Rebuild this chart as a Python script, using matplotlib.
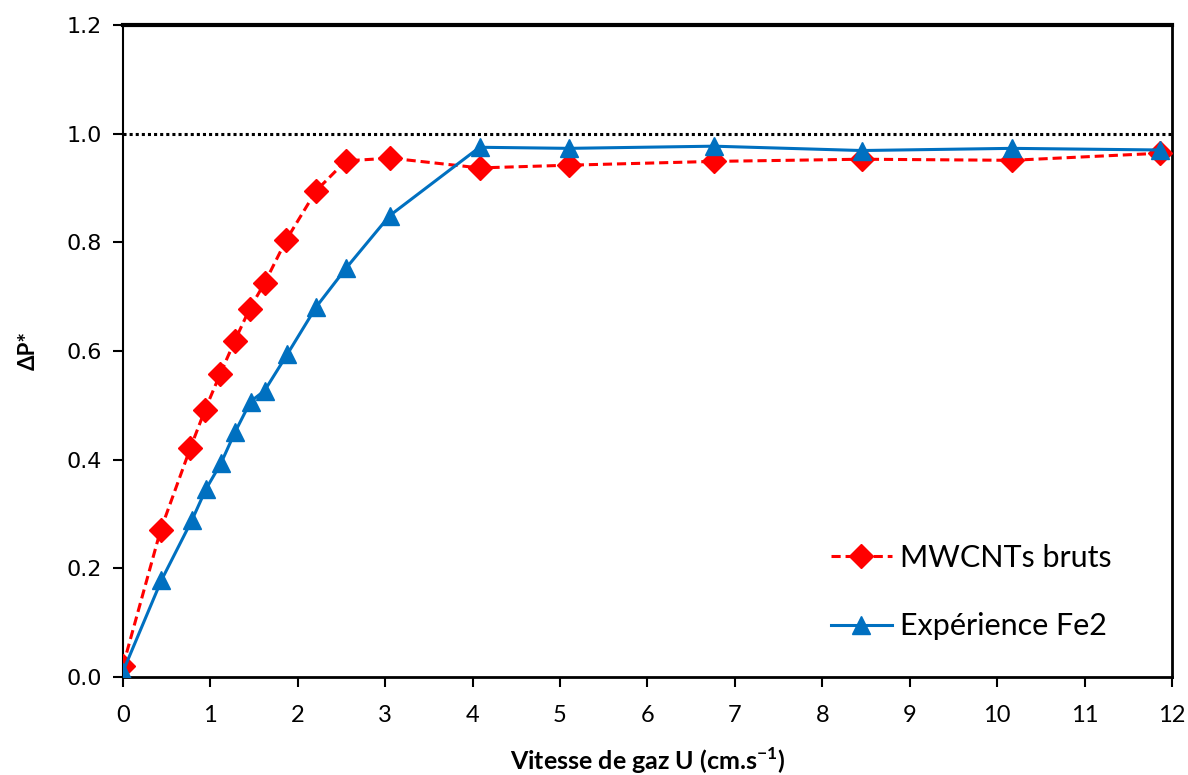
import numpy as np
import matplotlib.pyplot as plt

# Data
u_red = [0.0, 0.43, 0.77, 0.94, 1.11, 1.28, 1.45, 1.62, 1.87, 2.21, 2.55, 3.06,
         4.08, 5.10, 6.76, 8.45, 10.17, 11.86]
dp_red = [0.02, 0.27, 0.421, 0.492, 0.557, 0.619, 0.678, 0.725, 0.805, 0.895, 0.950, 0.955,
          0.937, 0.942, 0.949, 0.953, 0.951, 0.964]

u_blue = [0.0, 0.44, 0.79, 0.95, 1.12, 1.28, 1.46, 1.62, 1.88, 2.21, 2.55, 3.05,
          4.08, 5.10, 6.76, 8.45, 10.17, 11.86]
dp_blue = [0.01, 0.178, 0.289, 0.346, 0.393, 0.45, 0.507, 0.527, 0.594, 0.681, 0.752, 0.849,
           0.975, 0.973, 0.977, 0.969, 0.973, 0.970]

label_red = "MWCNTs bruts"
label_blue = "Expérience Fe2"
x_ticks = list(range(0, 13))
y_ticks = [0.0, 0.2, 0.4, 0.6, 0.8, 1.0, 1.2]

fig = plt.figure(figsize=(11.88, 7.75), dpi=100)
ax = fig.add_axes([0.1035, 0.1265, 0.883, 0.8412])

# reference line at 1
ax.axhline(1.0, color="black", linestyle=(0, (1, 1)), linewidth=2.2, zorder=1)

ax.plot(u_red, dp_red, color="#FF0000", linestyle=(0, (3, 1.6)), linewidth=2.2,
        marker="D", markersize=12.5, label=label_red, zorder=3)
ax.plot(u_blue, dp_blue, color="#0070C0", linestyle="-", linewidth=2.2,
        marker="^", markersize=13, label=label_blue, zorder=4)

ax.set_xlim(0, 12)
ax.set_ylim(0, 1.2)
ax.set_xticks(x_ticks)
ax.set_yticks(y_ticks)
ax.set_xticklabels([str(t) for t in x_ticks], fontfamily="Lato", fontsize=17)
ax.set_yticklabels([f"{t:.1f}" for t in y_ticks], fontfamily="DejaVu Sans", fontsize=16)
ax.tick_params(axis="both", direction="out", length=7, width=1.5, colors="black")
ax.tick_params(axis="x", pad=13)
ax.tick_params(axis="y", pad=8)

for side, lw in [("top", 3.0), ("left", 1.5), ("right", 2.0), ("bottom", 2.0)]:
    ax.spines[side].set_linewidth(lw)
    ax.spines[side].set_color("black")

ax.set_xlabel("Vitesse de gaz U (cm.s$^{\\mathregular{-1}}$)", fontfamily="Lato",
              fontweight="bold", fontsize=18, labelpad=14)
ax.set_ylabel("ΔP*", fontfamily="Lato", fontweight="bold", fontsize=16, labelpad=20)

leg = ax.legend(loc="upper left", bbox_to_anchor=(0.66, 0.228), frameon=False,
                prop={"family": "Lato", "size": 22}, handlelength=2.0,
                handletextpad=0.26, labelspacing=1.33, borderpad=0)

fig.savefig("out.png", dpi=100)
